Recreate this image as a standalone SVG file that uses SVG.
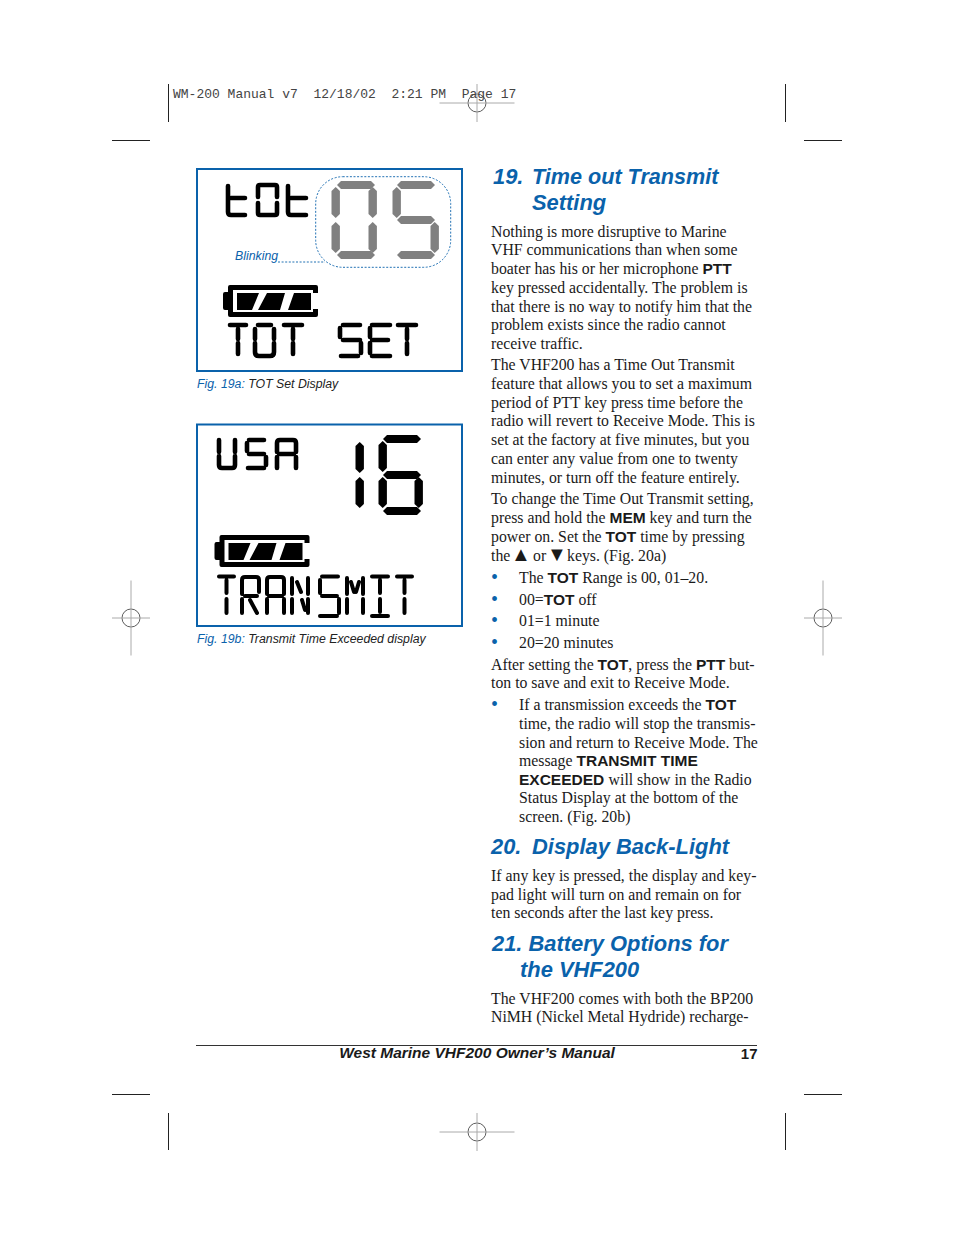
<svg xmlns="http://www.w3.org/2000/svg" xmlns:xlink="http://www.w3.org/1999/xlink" width="954" height="1235" viewBox="0 0 954 1235">
<style>
text{white-space:pre}
.b{font:15.8px "Liberation Serif",serif;fill:#1a1a1a}
.s{font:bold 15.5px "Liberation Sans",sans-serif;fill:#1a1a1a}
.h{font:italic bold 21.9px "Liberation Sans",sans-serif;fill:#0a62ab}
.c{font:italic 12.3px "Liberation Sans",sans-serif;fill:#222}
.cb{fill:#0a62ab}
.bu{font:20px "Liberation Serif",serif;fill:#0a62ab}
.tri{font:20px "Liberation Sans","DejaVu Sans",sans-serif;fill:#1a1a1a}
.lcd{fill:none;stroke:#000;stroke-width:4.600;stroke-linecap:round;stroke-linejoin:round}
.lcd2{fill:none;stroke:#000;stroke-width:4;stroke-linecap:round;stroke-linejoin:round}
.box{fill:#fff;stroke:#0a62ab;stroke-width:2}
.crop{stroke:#222;stroke-width:1;fill:none}
.reg{stroke:#aaa;stroke-width:1;fill:none}
.regc{stroke:#333;stroke-width:.8;fill:none}
.g{fill:#808080}
.k{fill:#000}
</style>
<defs>
<polygon id="hs" points="0,4 4,0 34,0 38,4 34,8 4,8"/>
<polygon id="vs" points="4.200,0 8.400,4 8.400,27 4.200,31 0,27 0,4"/>
<g id="mkh"><circle class="regc" r="9"/><path class="reg" d="M-37.500 0H37.500M0-19V19"/></g>
<g id="mkv"><circle class="regc" r="9"/><path class="reg" d="M-19 0H19M0-37.500V37.500" /></g>
<g id="bat"><path class="k" fill-rule="evenodd" d="M7 0H93Q95 0 95 2V8H90V5H10V27H90V24H95V30Q95 32 93 32H7Q5 32 5 30V25H2Q0 25 0 23V9Q0 7 2 7H5V2Q5 0 7 0Z"/><path class="k" d="M14 8H36L29 25H14ZM44 8H62L57 25H35ZM71 8H88V25H65Z"/></g>
</defs>
<rect width="954" height="1235" fill="#fff"/>
<g id="printer-marks">
<path class="crop" d="M168.500 84V122M785.500 84V122M112 140.500H150M804 140.500H842M112 1094.500H150M804 1094.500H842M168.500 1113V1150M785.500 1113V1150"/>
<use href="#mkh" x="477" y="103"/>
<use href="#mkh" x="477" y="1132"/>
<use href="#mkv" x="131" y="618"/>
<use href="#mkv" x="823" y="618"/>
<text x="173" y="98" style="font:13px 'Liberation Mono',monospace;fill:#444">WM-200 Manual v7  12/18/02  2:21 PM  Page 17</text>
</g>
<g id="fig-19a">
<rect class="box" x="197" y="169" width="265" height="202"/>
<path class="lcd" d="M228 186V212Q228 215 231 215H245M231 198H245M260 185H275Q277 185 277 187V197M277 203V213Q277 215 275 215H260Q258 215 258 213V203M258 197V187Q258 185 260 185M288 186V212Q288 215 291 215H306M291 198H306"/>
<g class="g">
<use href="#hs" x="337" y="181"/><use href="#vs" x="331.500" y="187"/><use href="#vs" x="368.500" y="187"/><use href="#vs" x="331.500" y="222"/><use href="#vs" x="368.500" y="222"/><use href="#hs" x="337" y="251"/>
<use href="#hs" x="397" y="181"/><use href="#vs" x="392.500" y="187"/><use href="#hs" x="397" y="216"/><use href="#vs" x="430.500" y="222"/><use href="#hs" x="397" y="251"/>
</g>
<rect x="315.700" y="176.700" width="135" height="90.600" rx="27" fill="none" stroke="#0a62ab" stroke-width=".9" stroke-dasharray="2 1.600"/>
<path d="M278 262H325" fill="none" stroke="#0a62ab" stroke-width=".9" stroke-dasharray="2 1.600"/>
<text x="235" y="260" class="c cb">Blinking</text>
<use href="#bat" x="223" y="285"/>
<path class="lcd" d="M230 325H246M238 329V339M238 343V354M258 325H271M255 329V339M255 343V352Q255 356 259 356H270Q274 356 274 352V343M274 339V329M284 325H302M293 329V339M293 343V354M360 325H343M340 328V337M343 340H360M361 343V353M358 356H341M370 328V337M370 343V353M372 325H390M372 340H388M372 356H390M398 325H416M407 329V339M407 343V354"/>
<text x="197" y="388" class="c"><tspan class="cb">Fig. 19a:</tspan> TOT Set Display</text>
</g>
<g id="fig-19b">
<rect class="box" x="197" y="424.500" width="265" height="201.500"/>
<path class="lcd" d="M219 440V452M219 456V465Q219 468 222 468H232Q235 468 235 465V456M235 452V440M264 440H249M247 443V451M249 454H264M266 457V465M264 468H248M277 452V443Q277 440 280 440H293Q296 440 296 443V452M279 454H294M277 457V468M296 457V468"/>
<g class="k">
<use href="#vs" x="355.500" y="442"/><use href="#vs" x="355.500" y="477"/>
<use href="#hs" x="383" y="435"/><use href="#vs" x="378.500" y="441"/><use href="#hs" x="383" y="471"/><use href="#vs" x="378.500" y="477"/><use href="#vs" x="414.500" y="477"/><use href="#hs" x="383" y="507"/>
</g>
<use href="#bat" x="214.500" y="535"/>
<path class="lcd2" d="M219 576.500H234M226.500 580V593M226.500 599V613M242 594V580Q242 577 245 577H256Q259 577 259 580V592M245 596H257M242 599V613M250 600L257 613M267 594V580Q267 577 270 577H281Q284 577 284 580V594M269 596H282M267 599V613M284 599V613M292 594V578M292 599V613M308 594V578M308 599V613M297 582L301 592M302 600L305 610M338 576.500H322M320 580V593M322 596H337M339 599V613M337 616H320M347 594V578M347 599V613M363 594V578M363 599V613M351 582L354 592M359 582L356 592M372 576.500H388M380 580V593M380 599V612M372 616H388M397 576.500H412M404.500 580V593M404.500 599V613"/>
<text x="197" y="643" class="c"><tspan class="cb">Fig. 19b:</tspan> Transmit Time Exceeded display</text>
</g>
<g id="section-19">
<text x="493" y="184" class="h">19.</text><text x="532" y="184" class="h" style="font-size:21.6px">Time out Transmit</text>
<text x="532" y="210" class="h">Setting</text>
<text x="491" y="237" class="b">Nothing is more disruptive to Marine</text>
<text x="491" y="255" class="b">VHF communications than when some</text>
<text x="491" y="274" class="b">boater has his or her microphone <tspan class="s">PTT</tspan></text>
<text x="491" y="293" class="b">key pressed accidentally. The problem is</text>
<text x="491" y="312" class="b">that there is no way to notify him that the</text>
<text x="491" y="330" class="b">problem exists since the radio cannot</text>
<text x="491" y="349" class="b">receive traffic.</text>
<text x="491" y="370" class="b">The VHF200 has a Time Out Transmit</text>
<text x="491" y="389" class="b">feature that allows you to set a maximum</text>
<text x="491" y="408" class="b">period of PTT key press time before the</text>
<text x="491" y="426" class="b">radio will revert to Receive Mode. This is</text>
<text x="491" y="445" class="b">set at the factory at five minutes, but you</text>
<text x="491" y="464" class="b">can enter any value from one to twenty</text>
<text x="491" y="483" class="b">minutes, or turn off the feature entirely.</text>
<text x="491" y="504" class="b">To change the Time Out Transmit setting,</text>
<text x="491" y="523" class="b">press and hold the <tspan class="s">MEM</tspan> key and turn the</text>
<text x="491" y="542" class="b">power on. Set the <tspan class="s">TOT</tspan> time by pressing</text>
<text x="491" y="561" class="b">the</text><text x="511" y="561" class="tri">▲</text><text x="533" y="561" class="b">or</text><text x="547" y="561" class="tri">▼</text><text x="567" y="561" class="b">keys. (Fig. 20a)</text>
<text x="491" y="584" class="bu">•</text><text x="519" y="583" class="b">The <tspan class="s">TOT</tspan> Range is 00, 01–20.</text>
<text x="491" y="606" class="bu">•</text><text x="519" y="605" class="b">00=<tspan class="s">TOT</tspan> off</text>
<text x="491" y="627" class="bu">•</text><text x="519" y="626" class="b">01=1 minute</text>
<text x="491" y="649" class="bu">•</text><text x="519" y="648" class="b">20=20 minutes</text>
<text x="491" y="670" class="b">After setting the <tspan class="s">TOT</tspan>, press the <tspan class="s">PTT</tspan> but-</text>
<text x="491" y="688" class="b">ton to save and exit to Receive Mode.</text>
<text x="491" y="711" class="bu">•</text><text x="519" y="710" class="b">If a transmission exceeds the <tspan class="s">TOT</tspan></text>
<text x="519" y="729" class="b">time, the radio will stop the transmis-</text>
<text x="519" y="748" class="b">sion and return to Receive Mode. The</text>
<text x="519" y="766" class="b">message <tspan class="s">TRANSMIT TIME</tspan></text>
<text x="519" y="785" class="s">EXCEEDED <tspan class="b">will show in the Radio</tspan></text>
<text x="519" y="803" class="b">Status Display at the bottom of the</text>
<text x="519" y="822" class="b">screen. (Fig. 20b)</text>
</g>
<g id="section-20">
<text x="491" y="854" class="h">20.</text><text x="532" y="854" class="h">Display Back-Light</text>
<text x="491" y="881" class="b">If any key is pressed, the display and key-</text>
<text x="491" y="900" class="b">pad light will turn on and remain on for</text>
<text x="491" y="918" class="b">ten seconds after the last key press.</text>
</g>
<g id="section-21">
<text x="492" y="951" class="h">21. Battery Options for</text>
<text x="520" y="977" class="h">the VHF200</text>
<text x="491" y="1004" class="b">The VHF200 comes with both the BP200</text>
<text x="491" y="1022" class="b">NiMH (Nickel Metal Hydride) recharge-</text>
</g>
<g id="footer">
<path d="M196 1045.500H757" stroke="#333" stroke-width="1"/>
<text x="477" y="1058" text-anchor="middle" style="font:italic bold 15.500px 'Liberation Sans',sans-serif;fill:#1a1a1a">West Marine VHF200 Owner’s Manual</text>
<text x="757.500" y="1059" text-anchor="end" style="font:bold 15px 'Liberation Sans',sans-serif;fill:#1a1a1a">17</text>
</g>
</svg>
